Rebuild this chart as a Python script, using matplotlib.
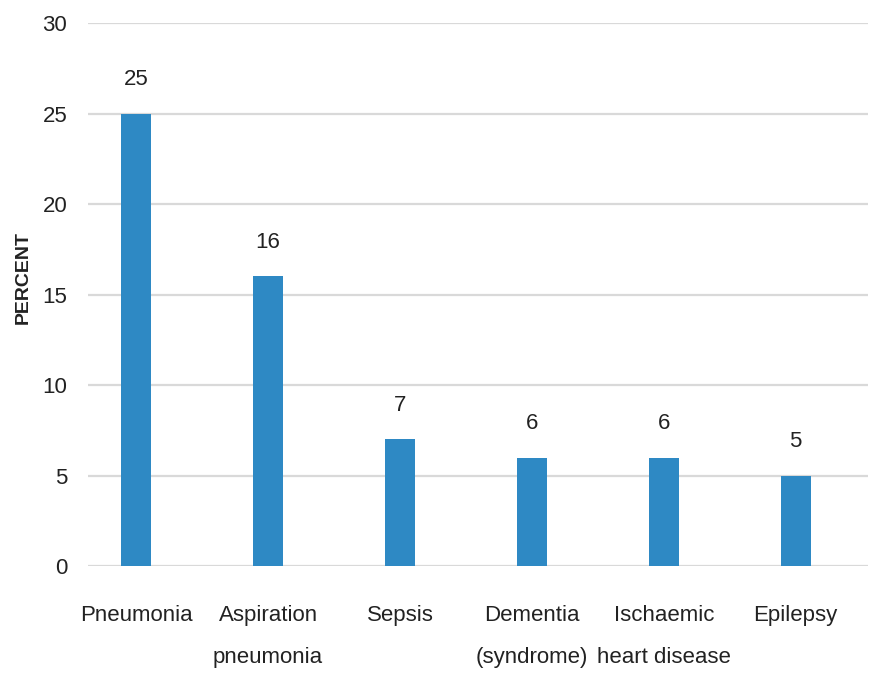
import numpy as np
import matplotlib.pyplot as plt

# data to plot
causes = ['Pneumonia', 'Aspiration\npneumonia', 'Sepsis', 'Dementia\n(syndrome)',
          'Ischaemic\nheart disease', 'Epilepsy']
percent = [25, 16, 7, 6, 6, 5]
y_ticks = [0, 5, 10, 15, 20, 25, 30]

plt.rcParams['font.family'] = ['Liberation Sans Narrow', 'Liberation Sans', 'DejaVu Sans']

fig = plt.figure(figsize=(8.72, 6.78), dpi=100)
ax = fig.add_axes([0.101, 0.165, 0.894, 0.801])

index = np.arange(len(causes))
ax.bar(index, percent, 0.23, color='#2E89C4', zorder=3)

for x, v in zip(index, percent):
    ax.text(x, v + 1.3, str(v), ha='center', va='bottom', fontsize=16, color='#222222')

ax.set_ylim(0, 30)
ax.set_xlim(-0.364, 5.545)
ax.set_yticks(y_ticks)
ax.yaxis.grid(True, color='#d9d9d9', linewidth=1.6, zorder=0)
for s in ax.spines.values():
    s.set_visible(False)
ax.tick_params(axis='both', length=0)
ax.tick_params(axis='y', labelsize=16, pad=15, labelcolor='#222222')
ax.set_xticks(index)
ax.set_xticklabels(causes, fontsize=16, color='#222222', linespacing=2.3)
ax.tick_params(axis='x', pad=28)

fig.text(0.027, 0.591, 'PERCENT', rotation=90, ha='center', va='center',
         fontsize=14, fontweight='bold', color='#222222')

plt.savefig('out.png', dpi=100)
